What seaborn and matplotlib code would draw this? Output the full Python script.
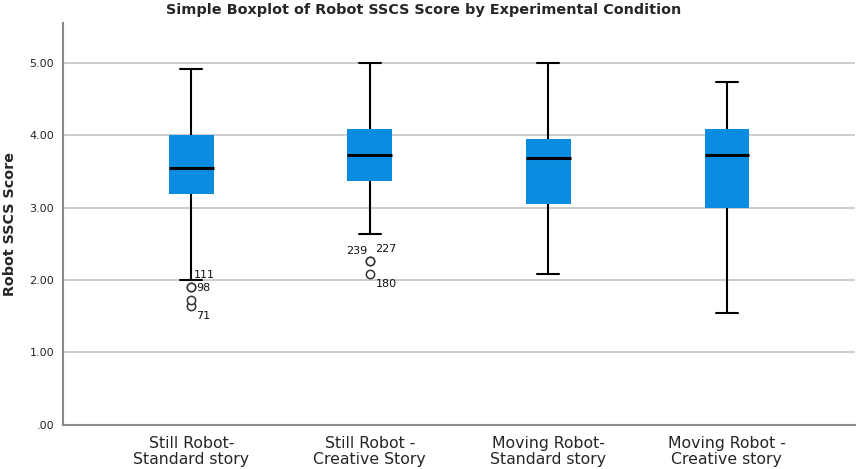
import numpy as np
import pandas as pd
import matplotlib
matplotlib.use("Agg")
import matplotlib.pyplot as plt
import seaborn as sns

# values (SPSS boxplot)
conditions = ["Still Robot-\nStandard story", "Still Robot -\nCreative Story",
              "Moving Robot-\nStandard story", "Moving Robot -\nCreative story"]
whisker_low = [2.00, 2.64, 2.09, 1.55]
q1 = [3.19, 3.37, 3.05, 3.00]
median = [3.55, 3.73, 3.68, 3.73]
q3 = [4.00, 4.09, 3.95, 4.09]
whisker_high = [4.91, 5.00, 5.00, 4.73]
outliers = [[1.64, 1.73, 1.91, 1.91], [2.09, 2.27, 2.27], [], []]

# case ids shown next to outliers: (group, value, label, dx px, dy px)
outlier_ids = [
    (0, 1.91, "111", 3, 12),
    (0, 1.91, "98", 5, -1),
    (0, 1.64, "71", 5, -10),
    (1, 2.27, "239", -24, 10),
    (1, 2.27, "227", 5, 12),
    (1, 2.09, "180", 6, -10),
]


def build_sample(lo, a, med, b, hi, outs, m=6):
    # sample whose linear-interpolated quartiles land exactly on a, med, b
    vals = sorted(outs) + [lo] + [a] * (m - len(outs)) + [med] * m + [b] * m + [b] * (m - 1) + [hi]
    return vals


rows = []
for i, cond in enumerate(conditions):
    for v in build_sample(whisker_low[i], q1[i], median[i], q3[i], whisker_high[i], outliers[i]):
        rows.append({"condition": cond, "score": v})
df = pd.DataFrame(rows)

sns.set_style("white")
plt.rcParams["font.family"] = ["DejaVu Sans"]

fig = plt.figure(figsize=(8.58, 4.69), dpi=100)
ax = fig.add_axes([0.073, 0.094, 0.924, 0.857])

ax.yaxis.grid(True, color="#c4c4c4", linewidth=1.2, zorder=0)
ax.set_axisbelow(True)

sns.boxplot(data=df, x="condition", y="score", order=conditions, ax=ax,
            width=0.25, whis=1.5, color="#0a8de0", saturation=1,
            boxprops=dict(facecolor="#0a8de0", edgecolor="#0a8de0", linewidth=0),
            medianprops=dict(color="black", linewidth=2.2),
            whiskerprops=dict(color="black", linewidth=1.5),
            capprops=dict(color="black", linewidth=1.5),
            flierprops=dict(marker="o", markersize=6, markerfacecolor="white",
                            markeredgecolor="#333333", markeredgewidth=1.1))

for g, val, label, dx, dy in outlier_ids:
    ax.annotate(label, xy=(g, val), xytext=(dx, dy), textcoords="offset pixels",
                fontsize=8, va="center", ha="left", color="#111111")

ax.set_ylim(0, 5.55)
ax.set_xlim(-0.72, 3.72)
ax.set_yticks([0, 1, 2, 3, 4, 5])
ax.set_yticklabels([".00", "1.00", "2.00", "3.00", "4.00", "5.00"], fontsize=8)
ax.tick_params(axis="x", labelsize=11.3, length=0, pad=8)
for lbl in ax.get_xticklabels():
    lbl.set_linespacing(1.1)
ax.tick_params(axis="y", length=0, pad=6)
ax.set_xlabel("")
ax.set_ylabel("Robot SSCS Score", fontsize=10.3, fontweight="bold", labelpad=9)
fig.text(0.494, 0.978, "Simple Boxplot of Robot SSCS Score by Experimental Condition",
         fontsize=10.4, fontweight="bold", ha="center", va="center")

for side in ["top", "right"]:
    ax.spines[side].set_visible(False)
for side in ["left", "bottom"]:
    ax.spines[side].set_color("#8a8a8a")
    ax.spines[side].set_linewidth(1.5)

fig.savefig("out.png", dpi=100)
